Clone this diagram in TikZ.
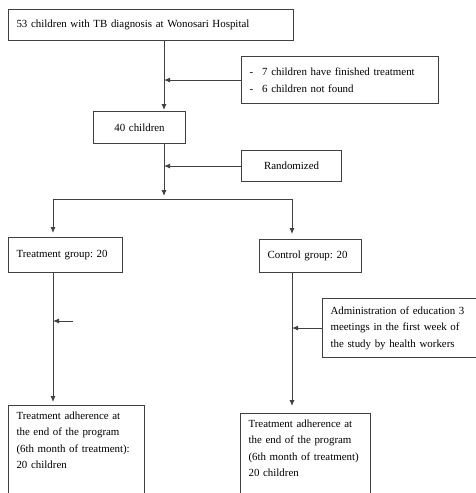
\documentclass[tikz,border=0pt]{standalone}
\usepackage{fontspec}
\setmainfont{Liberation Serif}
\usepackage{tikz}
\usetikzlibrary{arrows.meta}
\definecolor{linegray}{gray}{0.25}
\frenchspacing
\hyphenpenalty=10000

\begin{document}
\begin{tikzpicture} [x = 1pt, y = -1pt, >={Latex[length=6pt, width=5pt]},
  box/.style = {draw = linegray, line width = 1.1pt, anchor = north west, inner xsep = 8pt, inner ysep = 6pt, align = left, font = \fontsize{10.9}{16.5}\selectfont},
  flow/.style = {draw = linegray, line width = 0.9pt}]
\useasboundingbox (0,0) rectangle (475,493);
\node[box, text width = 269pt, minimum height = 31pt](top) at (8,9){53 children with TB diagnosis at Wonosari Hospital};
\node[box, text width = 181pt, minimum height = 47pt](excl) at (241,56){-\hspace{9pt}7 children have finished treatment\\ -\hspace{9pt}6 children not found};
\node[box, text width = 76pt, minimum height = 32pt, align = center](forty) at (93,111){40 children};
\node[box, text width = 84pt, minimum height = 31pt, align = center](rand) at (241,150){Randomized};
\node[box, text width = 98pt, minimum height = 35pt](treat) at (8,237){Treatment group: 20};
\node[box, text width = 86pt, minimum height = 33pt](ctrl) at (259,239){Control group: 20};
\node[box, text width = 154pt, minimum height = 59pt](edu) at (322,298){Administration of education 3\\ meetings in the first week of\\ the study by health workers};
\node[box, text width = 120pt](tend) at (8,405){Treatment adherence at\\ the end of the program\\ (6th month of treatment):\\ 20 children\rule[-32pt]{0pt}{0pt}};
\node[box, text width = 114pt](cend) at (240,413){Treatment adherence at\\ the end of the program\\ (6th month of treatment)\\ 20 children\rule[-32pt]{0pt}{0pt}};
% junctions of the trunk and the two branches
\coordinate (trunk) at (164,199);
\coordinate (lsplit) at (53,199);
\coordinate (rsplit) at (292,199);
\coordinate (stub) at (73,321);
\draw[flow, ->, shorten >= 1pt] (top.south -| trunk) -- (forty.north -| trunk);
\draw[flow, ->] (excl.west) -- (excl.west -| trunk);
\draw[flow, ->, shorten >= 3pt] (forty.south -| trunk) -- (trunk);
\draw[flow, ->] (rand.west) -- (rand.west -| trunk);
\draw[flow] (lsplit) -- (rsplit);
\draw[flow, ->, shorten >= 4pt] (lsplit) -- (treat.north -| lsplit);
\draw[flow, ->, shorten >= 5pt] (rsplit) -- (ctrl.north -| rsplit);
\draw[flow, ->, shorten >= 3pt] (treat.south -| lsplit) -- (tend.north -| lsplit);
\draw[flow, ->] (stub) -- (stub -| lsplit);
\draw[flow, ->, shorten >= 7pt] (ctrl.south -| rsplit) -- (cend.north -| rsplit);
\draw[flow, ->] (edu.west) -- (edu.west -| rsplit);
\end{tikzpicture}
\end{document}
